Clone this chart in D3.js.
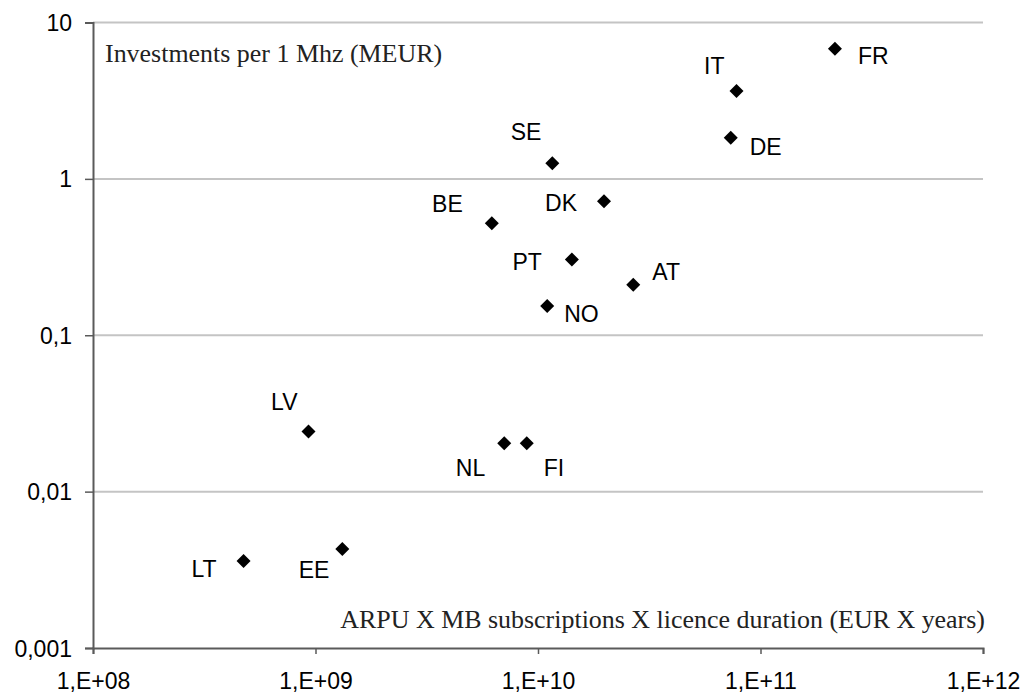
<!DOCTYPE html>
<html>
<head>
<meta charset="utf-8">
<script src="https://cdn.jsdelivr.net/npm/d3@7.9.0/dist/d3.min.js"></script>
<style>
  body { margin: 0; background: #fff; }
  svg { display: block; }
  .tick text { font-family: "Liberation Sans", Arial, sans-serif; fill: #000; }
  .lbl { font-family: "Liberation Sans", Arial, sans-serif; fill: #000; }
  .ttl { font-family: "Liberation Serif", "Times New Roman", serif; fill: #222; }
</style>
</head>
<body>
<svg id="chart" width="1030" height="695"></svg>
<script>
// data
const countries = ["FR", "IT", "DE", "SE", "BE", "DK", "PT", "AT", "NO", "LV", "NL", "FI", "LT", "EE"];
const arpuValues = [2.16e11, 7.8e10, 7.35e10, 1.16e10, 6.2e9, 1.98e10, 1.42e10, 2.68e10, 1.10e10, 9.3e8, 7.05e9, 8.9e9, 4.75e8, 1.32e9];
const investValues = [6.8, 3.65, 1.83, 1.26, 0.52, 0.72, 0.305, 0.21, 0.154, 0.0242, 0.0204, 0.0204, 0.0036, 0.0043];

const xTicks = [1e8, 1e9, 1e10, 1e11, 1e12];
const xTickLabels = ["1,E+08", "1,E+09", "1,E+10", "1,E+11", "1,E+12"];
const yTicks = [0.001, 0.01, 0.1, 1, 10];
const yTickLabels = ["0,001", "0,01", "0,1", "1", "10"];

const yTitle = "Investments per 1 Mhz (MEUR)";
const xTitle = "ARPU X MB subscriptions X licence duration (EUR X years)";

const svg = d3.select('#chart');

const x = d3.scaleLog().domain([1e8, 1e12]).range([93, 983]);
const y = d3.scaleLog().domain([0.001, 10]).range([648, 22.5]);

// horizontal gridlines
svg.append('g')
  .selectAll('line')
  .data(yTicks.filter(d => d > 0.001))
  .enter()
  .append('line')
  .attr('x1', x.range()[0])
  .attr('x2', x.range()[1])
  .attr('y1', d => y(d))
  .attr('y2', d => y(d))
  .attr('stroke', '#c4c4c4')
  .attr('stroke-width', 2);

// axes
let xAxis = svg.append('g')
  .attr('transform', `translate(0,${y.range()[0]})`)
  .call(d3.axisBottom(x).tickValues(xTicks).tickSizeOuter(0).tickSize(6)
    .tickFormat((d, i) => xTickLabels[i]));

let yAxis = svg.append('g')
  .attr('transform', `translate(${x.range()[0]},0)`)
  .call(d3.axisLeft(y).tickValues(yTicks).tickSizeOuter(0).tickSize(8)
    .tickFormat((d, i) => yTickLabels[i]));

[xAxis, yAxis].forEach(g => {
  g.select('.domain').attr('stroke', '#5a5a5a').attr('stroke-width', 2);
  g.selectAll('.tick line').attr('stroke', '#5a5a5a').attr('stroke-width', 1.5);
  g.selectAll('.tick text').attr('font-size', 23);
});
xAxis.selectAll('.tick text').attr('dy', null).attr('y', 41);
yAxis.selectAll('.tick text').attr('x', -21).attr('dy', '0.35em');

// diamond markers
svg.append('g')
  .selectAll('path')
  .data(countries)
  .enter()
  .append('path')
  .attr('d', d3.symbol(d3.symbolSquare, 98))
  .attr('transform', (d, i) => `translate(${x(arpuValues[i])},${y(investValues[i])}) rotate(45)`)
  .attr('fill', '#000');

// label placement around each marker: [dx, dy, anchor]
const labelPos = {
  FR: [23, 15, 'start'], IT: [-12, -17, 'end'], DE: [19, 17, 'start'],
  SE: [-11, -23, 'end'], BE: [-29, -11, 'end'], DK: [-27, 10, 'end'],
  PT: [-30, 10, 'end'], AT: [19, -5, 'start'], NO: [17, 16, 'start'],
  LV: [-11, -22, 'end'], NL: [-19, 33, 'end'], FI: [17, 33, 'start'],
  LT: [-27, 16, 'end'], EE: [-13, 29, 'end']
};

svg.append('g')
  .selectAll('text')
  .data(countries)
  .enter()
  .append('text')
  .attr('class', 'lbl')
  .attr('font-size', 23)
  .attr('x', (d, i) => x(arpuValues[i]) + labelPos[d][0])
  .attr('y', (d, i) => y(investValues[i]) + labelPos[d][1])
  .attr('text-anchor', d => labelPos[d][2])
  .text(d => d);

// axis titles inside the plot, serif
let xt = svg.append('text')
  .attr('class', 'ttl')
  .attr('font-size', 26)
  .attr('x', 985)
  .attr('y', 628)
  .attr('text-anchor', 'end')
  .text(xTitle);
let fs = 26 * 645 / xt.node().getComputedTextLength();
xt.attr('font-size', fs);

svg.append('text')
  .attr('class', 'ttl')
  .attr('font-size', fs)
  .attr('x', 105)
  .attr('y', 62)
  .text(yTitle);
</script>
</body>
</html>
